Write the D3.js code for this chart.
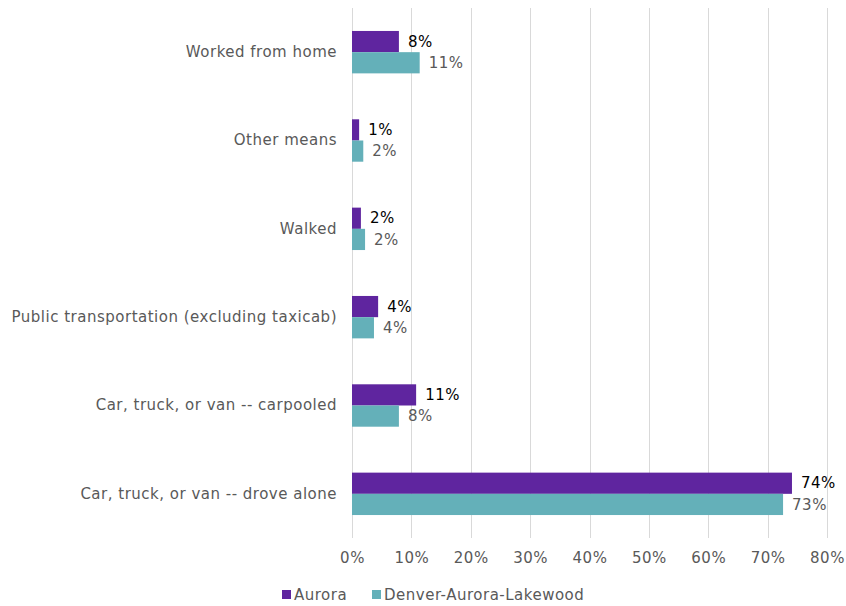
<!DOCTYPE html>
<html><head><meta charset="utf-8">
<script src="https://cdn.jsdelivr.net/npm/d3@7"></script>
<style>body{margin:0;background:#fff;} svg{display:block;font-family:"DejaVu Sans",Verdana,sans-serif;} text{letter-spacing:0.5px;}</style>
</head><body><div id="chart"></div>
<script>
const categories = ["Worked from home","Other means","Walked","Public transportation (excluding taxicab)","Car, truck, or van -- carpooled","Car, truck, or van -- drove alone"];
const seriesNames = ["Aurora","Denver-Aurora-Lakewood"];
const auroraValues = [0.079, 0.012, 0.015, 0.044, 0.108, 0.741];
const metroValues = [0.114, 0.019, 0.022, 0.037, 0.079, 0.726];
const auroraLabels = ["8%","1%","2%","4%","11%","74%"];
const metroLabels = ["11%","2%","2%","4%","8%","73%"];
const tickValues = [0,0.1,0.2,0.3,0.4,0.5,0.6,0.7,0.8];
const colors = ["#5F259F","#64B0B9"];

const W=846,H=606;
const m={left:352,right:20,top:8,bottom:68};
const FS="15px";
const svg=d3.select("#chart").append("svg").attr("width",W).attr("height",H);
const x=d3.scaleLinear().domain([0,0.8]).range([m.left,827]);
const y=d3.scaleBand().domain(categories).range([m.top,538]).paddingInner(0.52).paddingOuter(0.26);
const y2=d3.scaleBand().domain(seriesNames).range([0,y.bandwidth()]);

// gridlines
svg.append("g").selectAll("line").data(tickValues).join("line")
 .attr("x1",d=>Math.round(x(d))+0.5).attr("x2",d=>Math.round(x(d))+0.5)
 .attr("y1",m.top).attr("y2",538).attr("stroke","#d9d9d9").attr("stroke-width",1);

// x axis
const xa=svg.append("g").attr("transform","translate(0,538)")
 .call(d3.axisBottom(x).tickValues(tickValues).tickFormat(d3.format(".0%")).tickSize(0).tickPadding(14));
xa.select(".domain").remove();
xa.selectAll("text").attr("fill","#595959").attr("font-size",FS).attr("font-family","DejaVu Sans, Verdana, sans-serif");

// y axis labels
const ya=svg.append("g").attr("transform",`translate(${m.left},0)`)
 .call(d3.axisLeft(y).tickSize(0).tickPadding(15));
ya.select(".domain").remove();
ya.selectAll("text").attr("fill","#595959").attr("font-size",FS).attr("font-family","DejaVu Sans, Verdana, sans-serif");

const data=[auroraValues,metroValues];
const labels=[auroraLabels,metroLabels];
seriesNames.forEach((s,si)=>{
  const g=svg.append("g");
  g.selectAll("rect").data(categories).join("rect")
   .attr("x",x(0)).attr("y",(c)=>y(c)+y2(s))
   .attr("width",(c,i)=>x(data[si][i])-x(0)).attr("height",y2.bandwidth())
   .attr("fill",colors[si]);
  g.selectAll("text").data(categories).join("text")
   .attr("x",(c,i)=>x(data[si][i])+9).attr("y",c=>y(c)+y2(s)+y2.bandwidth()/2)
   .attr("dy","0.35em").attr("font-size",FS)
   .attr("fill",si===0?"#000000":"#595959")
   .text((c,i)=>labels[si][i]);
});

// legend
const leg=svg.append("g").attr("transform","translate(0,595)");
const legX=[282,372];
seriesNames.forEach((s,i)=>{
  leg.append("rect").attr("x",legX[i]).attr("y",-5).attr("width",9).attr("height",9).attr("fill",colors[i]);
  leg.append("text").attr("x",legX[i]+12).attr("y",0).attr("dy","0.35em").attr("font-size",FS).attr("fill","#595959").text(s);
});
</script></body></html>
